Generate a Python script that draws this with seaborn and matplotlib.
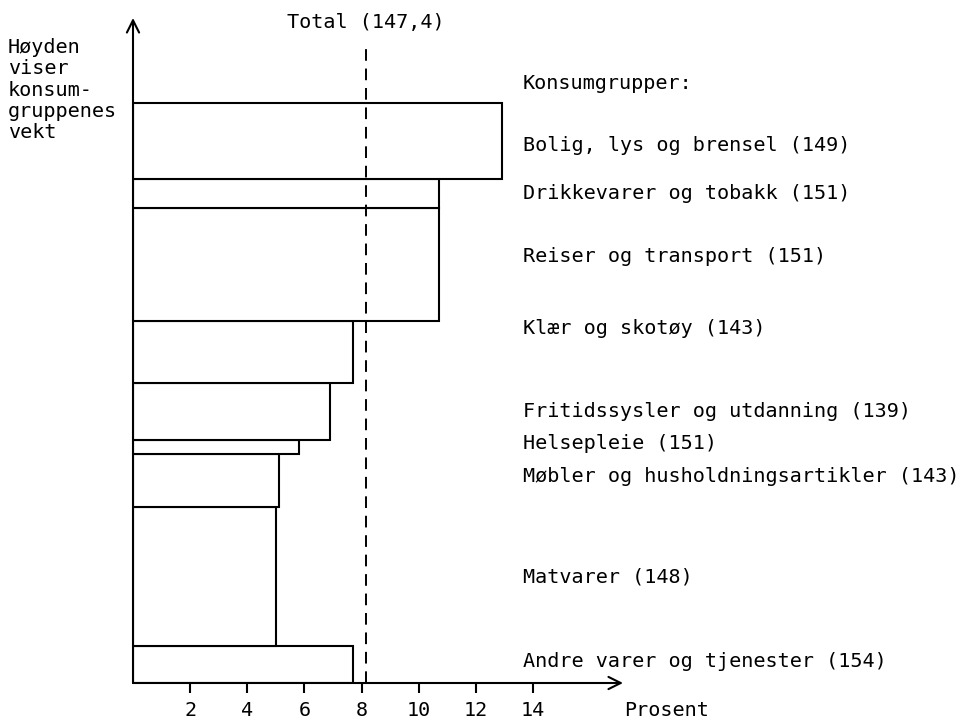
import numpy as np
import pandas as pd
import matplotlib
matplotlib.use("Agg")
import matplotlib.pyplot as plt
import seaborn as sns

# konsumgrupper, listed top to bottom as in the chart
groups = ["Bolig, lys og brensel (149)",
          "Drikkevarer og tobakk (151)",
          "Reiser og transport (151)",
          "Klær og skotøy (143)",
          "Fritidssysler og utdanning (139)",
          "Helsepleie (151)",
          "Møbler og husholdningsartikler (143)",
          "Matvarer (148)",
          "Andre varer og tjenester (154)"]
weights = [131, 50, 195, 107, 98, 24, 92, 240, 63]        # vekt (promille)
changes = [12.9, 10.7, 10.7, 7.7, 6.9, 5.8, 5.1, 5.0, 7.7]  # prosent
total_change = 8.15
total_label = "Total (147,4)"
xticks = [2, 4, 6, 8, 10, 12, 14]

sns.set_style("white")
plt.rcParams["font.family"] = ["DejaVu Sans Mono", "DejaVu Sans"]
plt.rcParams["text.color"] = "black"
plt.rcParams["xtick.color"] = "black"
fs = 14.5

# stack groups bottom-up, bar height = weight
df = pd.DataFrame({"gruppe": groups, "vekt": weights, "endring": changes}).iloc[::-1]
edges = [0.0] + list(np.cumsum(df["vekt"].values).astype(float))
df["midt"] = np.array(edges[:-1]) + df["vekt"].values / 2

fig = plt.figure(figsize=(9.61, 7.2), dpi=100)
ax = fig.add_axes([133 / 961, 37 / 720, 490 / 961, 665 / 720])

sns.histplot(data=df, y="midt", weights="endring", bins=edges, ax=ax,
             color="white", edgecolor="black", linewidth=1.5, alpha=1)

ymax = edges[-1] * 665 / 580
ax.set_xlim(0, 17.15)
ax.set_ylim(0, ymax)

for s in ax.spines.values():
    s.set_visible(False)
ax.annotate("", xy=(1, 0), xytext=(0, 0), xycoords="axes fraction",
            arrowprops=dict(arrowstyle="->", lw=1.5, color="black",
                            mutation_scale=22, shrinkA=0, shrinkB=0))
ax.annotate("", xy=(0, 1), xytext=(0, 0), xycoords="axes fraction",
            arrowprops=dict(arrowstyle="->", lw=1.5, color="black",
                            mutation_scale=22, shrinkA=0, shrinkB=0))

ax.set_xticks(xticks)
ax.set_xticklabels([str(t) for t in xticks])
ax.set_yticks([])
ax.tick_params(axis="x", direction="out", length=7, width=1.5, pad=6,
               labelsize=fs, bottom=True, colors="black")
ax.set_xlabel("")
ax.set_ylabel("")
ax.text(1.002, -27 / 665, "Prosent", transform=ax.transAxes, fontsize=fs,
        ha="left", va="center")

# dashed total line
ax.vlines(total_change, 0, ymax * (636 / 665), colors="black",
          linestyles=(0, (6, 4)), lw=1.4)
ax.text(total_change, ymax * (660 / 665), total_label, fontsize=fs,
        ha="center", va="center")

# group labels on the right
label_x = (523 - 133) / 490
nudge = [5, 0, -8, -24, 0, -3, -4, 0, -3]  # pixel shifts, top to bottom
ax.text(label_x, (683 - 84) / 665, "Konsumgrupper:", transform=ax.transAxes,
        fontsize=fs, ha="left", va="center")
for (_, row), dn in zip(df.iterrows(), nudge[::-1]):
    ax.annotate(row["gruppe"], xy=(label_x, row["midt"]),
                xycoords=("axes fraction", "data"),
                xytext=(0, -dn * 0.72), textcoords="offset points",
                fontsize=fs, ha="left", va="center")

fig.text(8 / 961, 1 - 38 / 720, "Høyden\nviser\nkonsum-\ngruppenes\nvekt",
         fontsize=fs, ha="left", va="top", linespacing=1.15)

fig.savefig("out.png", dpi=100)
